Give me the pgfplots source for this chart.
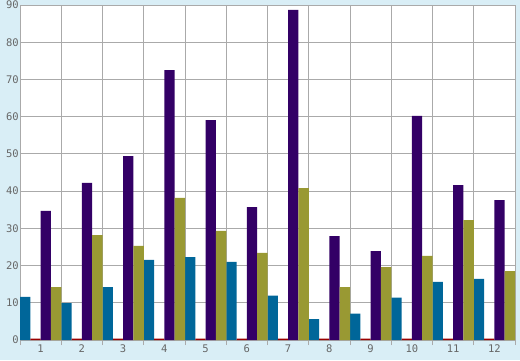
\documentclass[border=0pt]{standalone}
\usepackage{pgfplots}
\pgfplotsset{compat=1.18}
\usepackage{fontspec}
\setmainfont{DejaVu Sans Mono}
\definecolor{bgc}{HTML}{D9EEF6}
\definecolor{cblue}{HTML}{006699}
\definecolor{cred}{HTML}{990000}
\definecolor{cpurple}{HTML}{330066}
\definecolor{colive}{HTML}{999933}
\definecolor{gridc}{HTML}{AAAAAA}
\definecolor{txtc}{HTML}{666666}
\begin{document}
\begin{tikzpicture}[x=1pt,y=1pt]
\fill[bgc] (0,0) rectangle (520,360);
\path[use as bounding box] (0,0) rectangle (520,360);
\begin{axis}[
  at={(20pt,20pt)}, anchor=south west,
  scale only axis, width=495pt, height=335pt,
  xmin=0.5, xmax=12.5, ymin=0, ymax=90,
  ybar, bar width=0.25,
  axis background/.style={fill=white},
  axis line style={gridc, line width=1pt},
  xtick={1,...,12},
  minor xtick={0.5,1.5,...,12.5},
  ytick={0,10,...,90},
  xmajorgrids=false, xminorgrids=true, ymajorgrids=true,
  grid style={gridc, line width=1pt},
  minor grid style={gridc, line width=1pt},
  major tick length=0pt,
  minor tick length=5pt,
  tick align=outside,
  minor tick style={gridc, line width=1pt},
  tick style={gridc},
  xtick pos=bottom, ytick pos=left,
  tick label style={font=\fontsize{10.5}{12}\selectfont, text=txtc},
  /pgf/number format/assume math mode=true,
  yticklabel style={inner sep=1pt},
  xticklabel style={inner sep=2pt, yshift=-3pt},
  every axis plot/.append style={draw=none},
]
\addplot[fill=cblue, bar shift=-0.375] coordinates {(1,11.6) (2,9.9) (3,14.2) (4,21.5) (5,22.3) (6,21.0) (7,11.9) (8,5.6) (9,7.1) (10,11.4) (11,15.6) (12,16.4)};
\addplot[fill=cred, bar shift=-0.125] coordinates {(1,0.4) (2,0.4) (3,0.4) (4,0.4) (5,0.4) (6,0.4) (7,0.4) (8,0.4) (9,0.4) (10,0.4) (11,0.4) (12,0.4)};
\addplot[fill=cpurple, bar shift=0.125] coordinates {(1,34.7) (2,42.2) (3,49.4) (4,72.5) (5,59.1) (6,35.7) (7,88.7) (8,27.9) (9,23.9) (10,60.2) (11,41.6) (12,37.6)};
\addplot[fill=colive, bar shift=0.375] coordinates {(1,14.2) (2,28.2) (3,25.3) (4,38.2) (5,29.3) (6,23.4) (7,40.8) (8,14.2) (9,19.6) (10,22.6) (11,32.2) (12,18.5)};
\end{axis}
\end{tikzpicture}
\end{document}
